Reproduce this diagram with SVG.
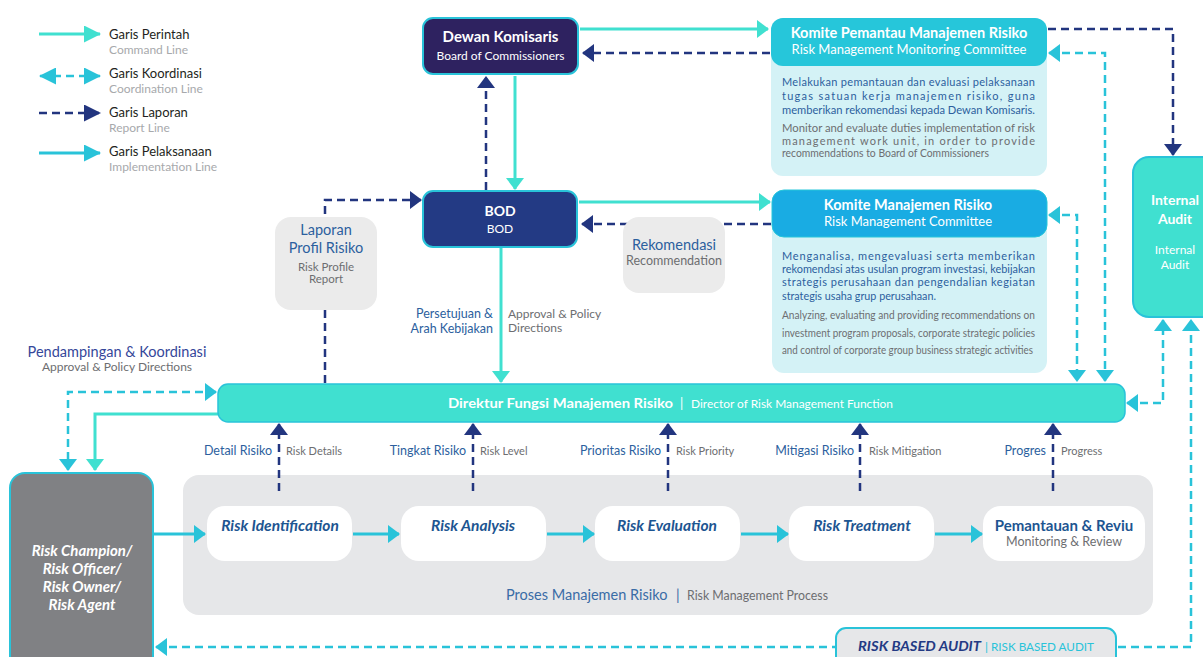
<svg xmlns="http://www.w3.org/2000/svg" width="1203" height="657" viewBox="0 0 1203 657">
<defs>
<style>
text{font-family:Lato,"Open Sans","Liberation Sans",sans-serif}
.w{fill:#fff}
.b{font-weight:700}
.bi{font-weight:700;font-style:italic}
.blue{fill:#2c5f9e}
.gr{fill:#6d6e71}
.lg1{fill:#231f20;font-size:13px}
.lg2{fill:#a7a9ac;font-size:12px}
.cmd{fill:none;stroke:#40e0d0;stroke-width:3}
.imp{fill:none;stroke:#29c3d9;stroke-width:3}
.coo{fill:none;stroke:#29c3d9;stroke-width:2.5;stroke-dasharray:8 5}
.rep{fill:none;stroke:#22357f;stroke-width:2.5;stroke-dasharray:8 5}
.pbox{fill:#fff}
.ptxt{fill:#1d5591;font-size:15.5px;font-weight:700;font-style:italic}
.lbl{fill:#2c5f9e;font-size:12.5px}
.lbs{fill:#6d6e71;font-size:11px}
.body1{fill:#2c5f9e;font-size:11px}
.body2{fill:#6d6e71;font-size:11px}
</style>
<marker id="aT" markerUnits="userSpaceOnUse" viewBox="0 0 12 18" markerWidth="12" markerHeight="18" refX="11" refY="9" orient="auto-start-reverse"><path d="M0,0 L12,9 L0,18 Z" fill="#40e0d0"/></marker>
<marker id="aC" markerUnits="userSpaceOnUse" viewBox="0 0 12 18" markerWidth="12" markerHeight="18" refX="11" refY="9" orient="auto-start-reverse"><path d="M0,0 L12,9 L0,18 Z" fill="#29c3d9"/></marker>
<marker id="aN" markerUnits="userSpaceOnUse" viewBox="0 0 12 18" markerWidth="12" markerHeight="18" refX="11" refY="9" orient="auto-start-reverse"><path d="M0,0 L12,9 L0,18 Z" fill="#22357f"/></marker>
<marker id="LT" markerUnits="userSpaceOnUse" viewBox="0 0 17 17" markerWidth="17" markerHeight="17" refX="16" refY="8.5" orient="auto-start-reverse"><path d="M0,0 L17,8.5 L0,17 Z" fill="#40e0d0"/></marker>
<marker id="LC" markerUnits="userSpaceOnUse" viewBox="0 0 17 17" markerWidth="17" markerHeight="17" refX="16" refY="8.5" orient="auto-start-reverse"><path d="M0,0 L17,8.5 L0,17 Z" fill="#29c3d9"/></marker>
<marker id="LN" markerUnits="userSpaceOnUse" viewBox="0 0 17 17" markerWidth="17" markerHeight="17" refX="16" refY="8.5" orient="auto-start-reverse"><path d="M0,0 L17,8.5 L0,17 Z" fill="#22357f"/></marker>
</defs>

<rect width="1203" height="657" fill="#fff"/>

<g id="legend">
<path class="cmd" d="M39,34 H100" marker-end="url(#LT)"/>
<text class="lg1" x="109" y="39">Garis Perintah</text>
<text class="lg2" x="109" y="54">Command Line</text>
<path class="coo" d="M40,76 H100" stroke-dasharray="10 6" marker-start="url(#LC)" marker-end="url(#LC)"/>
<text class="lg1" x="109" y="78">Garis Koordinasi</text>
<text class="lg2" x="109" y="93">Coordination Line</text>
<path class="rep" d="M39,113 H100" stroke-width="3" stroke-dasharray="10 7" marker-end="url(#LN)"/>
<text class="lg1" x="109" y="117">Garis Laporan</text>
<text class="lg2" x="109" y="132">Report Line</text>
<path class="imp" d="M39,153 H100" marker-end="url(#LC)"/>
<text class="lg1" x="109" y="156">Garis Pelaksanaan</text>
<text class="lg2" x="109" y="171">Implementation Line</text>
</g>

<g id="process-area">
<rect x="183" y="475" width="970" height="140" rx="16" fill="#e6e7e9"/>
<text x="506" y="600" font-size="14.5" fill="#3a6ca6">Proses Manajemen Risiko</text>
<text x="676" y="600" font-size="14.5" fill="#3a6ca6">|</text>
<text x="687" y="600" font-size="12.5" class="gr" textLength="141" lengthAdjust="spacingAndGlyphs">Risk Management Process</text>
</g>

<g id="connectors">
<path class="cmd" d="M580,29 H768" marker-end="url(#aT)"/>
<path class="rep" d="M770,53 H583" marker-end="url(#aN)"/>
<path class="cmd" d="M515,76 V189" marker-end="url(#aT)"/>
<path class="rep" d="M486,190 V77" marker-end="url(#aN)"/>
<path class="cmd" d="M579,202 H770" marker-end="url(#aT)"/>
<path class="rep" d="M771,224 H582" marker-end="url(#aN)"/>
<path class="cmd" d="M501,248 V382" marker-end="url(#aT)"/>
<path class="rep" d="M325,383 V200 H421" marker-end="url(#aN)"/>
<path class="rep" d="M1048,29 H1173 V155" marker-end="url(#aN)"/>
<path class="coo" d="M1049,53 H1105 V381" marker-start="url(#aC)" marker-end="url(#aC)"/>
<path class="coo" d="M1049,215 H1077 V381" marker-start="url(#aC)" marker-end="url(#aC)"/>
<path class="coo" d="M1127,403 H1163 V320" marker-start="url(#aC)" marker-end="url(#aC)"/>
<path class="coo" d="M156,647 H1191 V320" marker-start="url(#aC)" marker-end="url(#aC)"/>
<path class="coo" d="M216,392 H68 V470" marker-start="url(#aC)" marker-end="url(#aC)"/>
<path class="cmd" d="M219,414 H95 V470" marker-end="url(#aT)"/>
<path class="rep" d="M279,491 V424" marker-end="url(#aN)"/>
<path class="rep" d="M473,491 V424" marker-end="url(#aN)"/>
<path class="rep" d="M668,491 V424" marker-end="url(#aN)"/>
<path class="rep" d="M860,491 V424" marker-end="url(#aN)"/>
<path class="rep" d="M1053,491 V424" marker-end="url(#aN)"/>
<path class="imp" d="M154,534 H205" marker-end="url(#aC)"/>
<path class="imp" d="M353,534 H399" marker-end="url(#aC)"/>
<path class="imp" d="M547,534 H594" marker-end="url(#aC)"/>
<path class="imp" d="M741,534 H788" marker-end="url(#aC)"/>
<path class="imp" d="M935,534 H982" marker-end="url(#aC)"/>
</g>

<g id="connector-labels">
<text class="lbl" x="493" y="318" text-anchor="end" font-size="13">Persetujuan &amp;</text>
<text class="lbl" x="493" y="333" text-anchor="end" font-size="13">Arah Kebijakan</text>
<text class="gr" x="508" y="318" font-size="12">Approval &amp; Policy</text>
<text class="gr" x="508" y="332" font-size="12">Directions</text>
<text x="117" y="357" text-anchor="middle" font-size="14.5" fill="#35479a">Pendampingan &amp; Koordinasi</text>
<text x="117" y="371" text-anchor="middle" font-size="12" class="gr">Approval &amp; Policy Directions</text>
<text class="lbl" x="272" y="455" text-anchor="end">Detail Risiko</text>
<text class="lbs" x="286" y="455">Risk Details</text>
<text class="lbl" x="466" y="455" text-anchor="end">Tingkat Risiko</text>
<text class="lbs" x="480" y="455">Risk Level</text>
<text class="lbl" x="661" y="455" text-anchor="end">Prioritas Risiko</text>
<text class="lbs" x="676" y="455">Risk Priority</text>
<text class="lbl" x="854" y="455" text-anchor="end">Mitigasi Risiko</text>
<text class="lbs" x="869" y="455">Risk Mitigation</text>
<text class="lbl" x="1046" y="455" text-anchor="end">Progres</text>
<text class="lbs" x="1061" y="455">Progress</text>
</g>

<g id="dewan-komisaris">
<rect x="423" y="18" width="155" height="56" rx="10" fill="#2e2260" stroke="#29c3d9" stroke-width="2"/>
<text class="w b" x="500.5" y="42" text-anchor="middle" font-size="15">Dewan Komisaris</text>
<text class="w" x="500.5" y="60" text-anchor="middle" font-size="12">Board of Commissioners</text>
</g>

<g id="komite-pemantau">
<rect x="771" y="18" width="276" height="158" rx="12" fill="#d4f2f6"/>
<rect x="771" y="18" width="276" height="48" rx="12" fill="#26c6da"/>
<text class="w b" x="909" y="38" text-anchor="middle" font-size="14.5">Komite Pemantau Manajemen Risiko</text>
<text class="w" x="909" y="54" text-anchor="middle" font-size="13">Risk Management Monitoring Committee</text>
<text class="body1" x="782" y="86" textLength="253" lengthAdjust="spacing">Melakukan pemantauan dan evaluasi pelaksanaan</text>
<text class="body1" x="782" y="100" textLength="253" lengthAdjust="spacing">tugas satuan kerja manajemen risiko, guna</text>
<text class="body1" x="782" y="114" textLength="253" lengthAdjust="spacingAndGlyphs">memberikan rekomendasi kepada Dewan Komisaris.</text>
<text class="body2" x="782" y="132" textLength="253" lengthAdjust="spacingAndGlyphs">Monitor and evaluate duties implementation of risk</text>
<text class="body2" x="782" y="145" textLength="253" lengthAdjust="spacing">management work unit, in order to provide</text>
<text class="body2" x="782" y="157" textLength="207" lengthAdjust="spacingAndGlyphs">recommendations to Board of Commissioners</text>
</g>

<g id="internal-audit">
<rect x="1133" y="157" width="90" height="160" rx="16" fill="#40e0d0" stroke="#29c3d9" stroke-width="2"/>
<text class="w b" x="1175" y="205" text-anchor="middle" font-size="14">Internal</text>
<text class="w b" x="1175" y="224" text-anchor="middle" font-size="14">Audit</text>
<text class="w" x="1175" y="254" text-anchor="middle" font-size="12">Internal</text>
<text class="w" x="1175" y="269" text-anchor="middle" font-size="12">Audit</text>
</g>

<g id="bod">
<rect x="423" y="191" width="154" height="56" rx="10" fill="#233a84" stroke="#29c3d9" stroke-width="2"/>
<text class="w b" x="500" y="216" text-anchor="middle" font-size="14">BOD</text>
<text class="w" x="500" y="233" text-anchor="middle" font-size="12">BOD</text>
</g>

<g id="laporan-profil-risiko">
<rect x="275" y="217" width="102" height="93" rx="16" fill="#ebebeb"/>
<text class="blue" x="326" y="235" text-anchor="middle" font-size="14.5">Laporan</text>
<text class="blue" x="326" y="253" text-anchor="middle" font-size="14.5">Profil Risiko</text>
<text class="gr" x="326" y="271" text-anchor="middle" font-size="11.5">Risk Profile</text>
<text class="gr" x="326" y="283" text-anchor="middle" font-size="11.5">Report</text>
</g>

<g id="rekomendasi">
<rect x="623" y="217" width="102" height="76" rx="16" fill="#ebebeb"/>
<text class="blue" x="674" y="250" text-anchor="middle" font-size="14.5">Rekomendasi</text>
<text class="gr" x="674" y="265" text-anchor="middle" font-size="12.5">Recommendation</text>
</g>

<g id="komite-manajemen-risiko">
<rect x="772" y="190" width="275" height="183" rx="12" fill="#d4f2f6"/>
<rect x="772" y="190" width="275" height="47" rx="12" fill="#19ace3" stroke="#26c6da" stroke-width="1"/>
<text class="w b" x="908" y="210" text-anchor="middle" font-size="14.5">Komite Manajemen Risiko</text>
<text class="w" x="908" y="226" text-anchor="middle" font-size="13">Risk Management Committee</text>
<text class="body1" x="782" y="260" textLength="253" lengthAdjust="spacing">Menganalisa, mengevaluasi serta memberikan</text>
<text class="body1" x="782" y="273" textLength="253" lengthAdjust="spacingAndGlyphs">rekomendasi atas usulan program investasi, kebijakan</text>
<text class="body1" x="782" y="286" textLength="253" lengthAdjust="spacing">strategis perusahaan dan pengendalian kegiatan</text>
<text class="body1" x="782" y="300" textLength="154" lengthAdjust="spacingAndGlyphs">strategis usaha grup perusahaan.</text>
<text class="body2" x="782" y="319" textLength="253" lengthAdjust="spacingAndGlyphs">Analyzing, evaluating and providing recommendations on</text>
<text class="body2" x="782" y="337" textLength="253" lengthAdjust="spacingAndGlyphs">investment program proposals, corporate strategic policies</text>
<text class="body2" x="782" y="354" textLength="251" lengthAdjust="spacingAndGlyphs">and control of corporate group business strategic activities</text>
</g>

<g id="direktur">
<rect x="218" y="384" width="907" height="38" rx="10" fill="#40e0d0" stroke="#29c3d9" stroke-width="1.5"/>
<text class="w b" x="448" y="408" font-size="13.5" textLength="225" lengthAdjust="spacingAndGlyphs">Direktur Fungsi Manajemen Risiko</text>
<text class="w" x="680" y="408" font-size="13">|</text>
<text class="w" x="691" y="408" font-size="12" textLength="202" lengthAdjust="spacingAndGlyphs">Director of Risk Management Function</text>
</g>

<g id="risk-champion">
<rect x="10" y="473" width="143" height="200" rx="15" fill="#808184" stroke="#29c3d9" stroke-width="2"/>
<text class="w bi" x="82" y="556" text-anchor="middle" font-size="15">Risk Champion/</text>
<text class="w bi" x="82" y="574" text-anchor="middle" font-size="15">Risk Officer/</text>
<text class="w bi" x="82" y="592" text-anchor="middle" font-size="15">Risk Owner/</text>
<text class="w bi" x="82" y="610" text-anchor="middle" font-size="15">Risk Agent</text>
</g>

<g id="risk-identification">
<rect class="pbox" x="207" y="506" width="145" height="55" rx="18"/>
<text class="ptxt" x="280" y="531" text-anchor="middle">Risk Identification</text>
</g>
<g id="risk-analysis">
<rect class="pbox" x="401" y="506" width="145" height="55" rx="18"/>
<text class="ptxt" x="473" y="531" text-anchor="middle">Risk Analysis</text>
</g>
<g id="risk-evaluation">
<rect class="pbox" x="595" y="506" width="145" height="55" rx="18"/>
<text class="ptxt" x="667" y="531" text-anchor="middle">Risk Evaluation</text>
</g>
<g id="risk-treatment">
<rect class="pbox" x="789" y="506" width="145" height="55" rx="18"/>
<text class="ptxt" x="862" y="531" text-anchor="middle">Risk Treatment</text>
</g>
<g id="pemantauan-reviu">
<rect class="pbox" x="983" y="506" width="162" height="55" rx="18"/>
<text x="1064" y="531" text-anchor="middle" font-size="15" font-weight="700" fill="#1d5591">Pemantauan &amp; Reviu</text>
<text class="gr" x="1064" y="546" text-anchor="middle" font-size="12.5">Monitoring &amp; Review</text>
</g>

<g id="risk-based-audit">
<rect x="836" y="628" width="280" height="40" rx="10" fill="#e6e7e9" stroke="#29c3d9" stroke-width="2"/>
<text class="bi" x="858" y="651" font-size="13" fill="#233a84" textLength="123" lengthAdjust="spacingAndGlyphs">RISK BASED AUDIT</text>
<text x="985" y="651" font-size="12" fill="#29c3d9">|</text>
<text x="991" y="651" font-size="12" fill="#29c3d9" textLength="103" lengthAdjust="spacingAndGlyphs">RISK BASED AUDIT</text>
</g>
</svg>
